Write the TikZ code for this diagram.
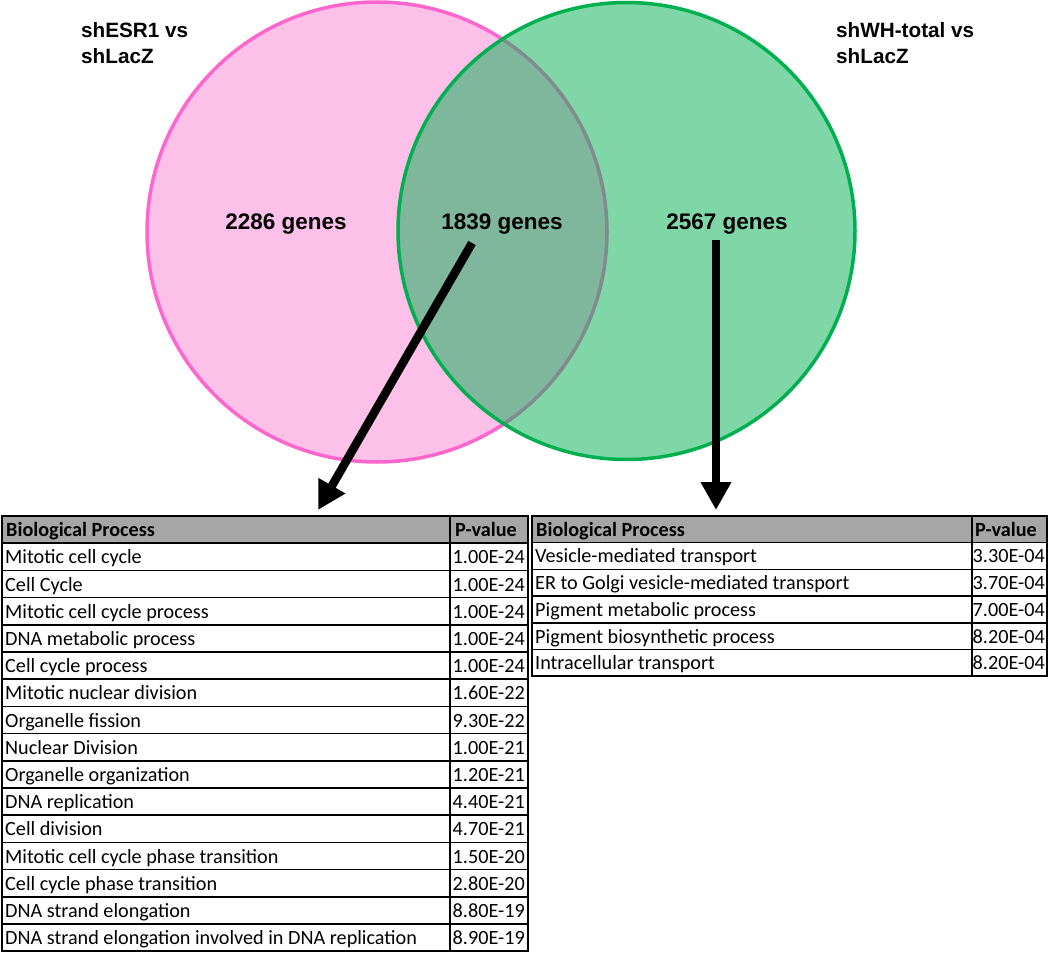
\documentclass[tikz,border=0pt]{standalone}
\usepackage{fontspec}
\setmainfont{Liberation Sans}
\newfontfamily\calib{Carlito}
\usetikzlibrary{arrows.meta}
\definecolor{pinkfill}{RGB}{253,192,233}
\definecolor{pinkline}{RGB}{255,102,204}
\definecolor{greenc}{RGB}{0,176,80}
\definecolor{hdrgray}{RGB}{166,166,166}
\tikzset{
  vennlabel/.style={font=\fontsize{20.7}{25}\selectfont\bfseries, align=left, inner sep=0pt},
  countlabel/.style={font=\fontsize{22.5}{25}\selectfont\bfseries, inner sep=0pt},
  bigarrow/.style={line width=8.5pt, -{Triangle[width=29pt,length=28pt]}},
  cell/.style={draw=black, line width=1.5pt},
  celltext/.style={font=\calib\fontsize{20.2}{22}\selectfont, inner sep=0pt},
  hdrtext/.style={font=\calib\fontsize{20.2}{22}\selectfont\bfseries, inner sep=0pt}
}
\begin{document}
\begin{tikzpicture}[x=1pt,y=-1pt]
\useasboundingbox (0,0) rectangle (1050,953);
% Venn circles
\fill[pinkfill] (377,232) circle (230);
\draw[pinkline, line width=3.5pt] (377,232) circle (230);
\fill[greenc, opacity=0.5] (626.5,231) circle (228.5);
\draw[greenc, line width=3.5pt] (626.5,231) circle (228.5);
% labels
\node[vennlabel, anchor=base west] (lblA) at (81,63) {shESR1 vs\\shLacZ};
\node[vennlabel, anchor=base west] (lblB) at (836,63) {shWH-total vs\\shLacZ};
\node[countlabel, anchor=base] (cA) at (286,229) {2286 genes};
\node[countlabel, anchor=base] (cAB) at (502,229) {1839 genes};
\node[countlabel, anchor=base] (cB) at (727,229) {2567 genes};
% left table
\def\Ltop{516}\def\Lh{27.2}
\draw[cell, fill=hdrgray] (2,\Ltop) rectangle (450,\Ltop+\Lh);
\draw[cell, fill=hdrgray] (450,\Ltop) rectangle (528,\Ltop+\Lh);
\node[hdrtext, anchor=base west] (LhA) at (6,\Ltop+\Lh-6.5) {Biological Process};
\node[hdrtext, anchor=base west] (LhB) at (455,\Ltop+\Lh-6.5) {P-value};
\foreach \t/\p [count=\i] in {Mitotic cell cycle/1.00E-24, Cell Cycle/1.00E-24, Mitotic cell cycle process/1.00E-24, DNA metabolic process/1.00E-24, Cell cycle process/1.00E-24, Mitotic nuclear division/1.60E-22, Organelle fission/9.30E-22, Nuclear Division/1.00E-21, Organelle organization/1.20E-21, DNA replication/4.40E-21, Cell division/4.70E-21, Mitotic cell cycle phase transition/1.50E-20, Cell cycle phase transition/2.80E-20, DNA strand elongation/8.80E-19, DNA strand elongation involved in DNA replication/8.90E-19}{
  \draw[cell] (2,\Ltop+\i*\Lh) rectangle (450,\Ltop+\i*\Lh+\Lh);
  \draw[cell] (450,\Ltop+\i*\Lh) rectangle (528,\Ltop+\i*\Lh+\Lh);
  \node[celltext, anchor=base west] (La\i) at (5,\Ltop+\i*\Lh+\Lh-6.5) {\t};
  \node[celltext, anchor=base east] (Lb\i) at (525,\Ltop+\i*\Lh+\Lh-6.5) {\p};
}
% right table
\def\Rtop{516}\def\Rh{26.7}
\draw[cell, fill=hdrgray] (532,\Rtop) rectangle (972,\Rtop+\Rh);
\draw[cell, fill=hdrgray] (972,\Rtop) rectangle (1047,\Rtop+\Rh);
\node[hdrtext, anchor=base west] (RhA) at (536,\Rtop+\Rh-6.5) {Biological Process};
\node[hdrtext, anchor=base west] (RhB) at (975,\Rtop+\Rh-6.5) {P-value};
\foreach \t/\p [count=\i] in {Vesicle-mediated transport/3.30E-04, ER to Golgi vesicle-mediated transport/3.70E-04, Pigment metabolic process/7.00E-04, Pigment biosynthetic process/8.20E-04, Intracellular transport/8.20E-04}{
  \draw[cell] (532,\Rtop+\i*\Rh) rectangle (972,\Rtop+\i*\Rh+\Rh);
  \draw[cell] (972,\Rtop+\i*\Rh) rectangle (1047,\Rtop+\i*\Rh+\Rh);
  \node[celltext, anchor=base west] (Ra\i) at (535,\Rtop+\i*\Rh+\Rh-6.5) {\t};
  \node[celltext, anchor=base east] (Rb\i) at (1045,\Rtop+\i*\Rh+\Rh-6.5) {\p};
}
% arrows
\coordinate (a1s) at (472,243);
\coordinate (a1e) at (318,510);
\coordinate (a2s) at (716,240);
\coordinate (a2e) at (716,510);
\draw[bigarrow] (a1s) -- (a1e);
\draw[bigarrow] (a2s) -- (a2e);
\end{tikzpicture}
\end{document}
